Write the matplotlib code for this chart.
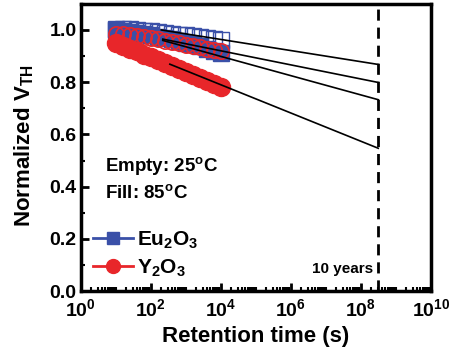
import numpy as np
import matplotlib
matplotlib.use("Agg")
import matplotlib.pyplot as plt
from matplotlib.ticker import LogLocator, NullFormatter, MultipleLocator, FixedLocator

plt.rcParams['font.family'] = ['Liberation Sans', 'DejaVu Sans']
plt.rcParams['font.weight'] = 'bold'
plt.rcParams['mathtext.default'] = 'regular'

# measurement times (s)
t = [10, 16, 25, 40, 63, 100, 158, 251, 398, 631, 1000, 1585, 2512, 3981, 6310, 10000]

eu_filled = [1.000, 0.998, 0.994, 0.990, 0.985, 0.980, 0.975, 0.970, 0.964, 0.958, 0.952, 0.945, 0.937, 0.928, 0.919, 0.910]
eu_open = [1.005, 1.004, 1.002, 1.000, 0.998, 0.995, 0.992, 0.989, 0.986, 0.982, 0.979, 0.976, 0.972, 0.968, 0.964, 0.960]
y_filled = [0.950, 0.940, 0.929, 0.918, 0.906, 0.895, 0.884, 0.873, 0.862, 0.851, 0.840, 0.829, 0.818, 0.806, 0.795, 0.783]
y_open = [0.985, 0.983, 0.980, 0.977, 0.973, 0.969, 0.964, 0.959, 0.954, 0.949, 0.944, 0.939, 0.934, 0.929, 0.924, 0.920]

# extrapolation fit lines: start time, start value, end value at 10 years
fit_t0 = [200, 220, 220, 350]
fit_v0 = [1.000, 0.965, 0.960, 0.869]
fit_v1 = [0.868, 0.799, 0.733, 0.547]
ten_years = 3.15e8

xticks = [1e0, 1e2, 1e4, 1e6, 1e8, 1e10]
yticks = [0.0, 0.2, 0.4, 0.6, 0.8, 1.0]

blue = '#3A50A8'
red = '#E8262A'

fig = plt.figure(figsize=(4.54, 3.52), dpi=100)
ax = fig.add_axes([0.178, 0.173, 0.771, 0.816])

ms = 11
ax.plot(t, eu_open, 's', ms=ms, mfc='none', mec=blue, mew=1.0, zorder=3)
ax.plot(t, eu_filled, 's', ms=ms, color=blue, zorder=3)
ax.plot(t, y_filled, 'o', ms=ms + 2, color=red, zorder=3)
ax.plot(t, y_open, 'o', ms=ms, mfc='none', mec=red, mew=1.2, zorder=4)

for a, b, c in zip(fit_t0, fit_v0, fit_v1):
    ax.plot([a, ten_years], [b, c], '-', color='black', lw=1.2, zorder=5)

ax.axvline(ten_years, color='black', lw=2, ls=(0, (4, 2.5)), zorder=2)

ax.set_xscale('log')
ax.set_xlim(1, 1e10)
ax.set_ylim(0, 1.1)
ax.set_xticks(xticks)
ax.xaxis.set_minor_locator(LogLocator(base=10, subs=np.arange(1, 10), numticks=20))
ax.xaxis.set_minor_formatter(NullFormatter())
ax.set_yticks(yticks)
ax.yaxis.set_minor_locator(MultipleLocator(0.1))
ax.yaxis.set_major_formatter(matplotlib.ticker.FormatStrFormatter('%.1f'))

ax.tick_params(which='major', direction='in', length=6, width=2, labelsize=14, pad=3)
ax.tick_params(axis='x', which='major', pad=5)
ax.tick_params(which='minor', direction='in', length=3, width=1.5)
ax.tick_params(top=False, right=False)
for s in ax.spines.values():
    s.set_linewidth(2.5)

ax.set_xlabel('Retention time (s)', fontsize=16, fontweight='bold', labelpad=4)
ax.set_ylabel(r'Normalized V$_{TH}$', fontsize=16, fontweight='bold')
ax.yaxis.set_label_coords(-0.128, 0.505)

ax.text(4.8, 0.48, r'Empty: 25$^{o}$C', fontsize=13.5, fontweight='bold', va='center')
ax.text(4.8, 0.375, r'Fill: 85$^{o}$C', fontsize=13.5, fontweight='bold', va='center')
ax.text(2.3e8, 0.085, '10 years', fontsize=11, fontweight='bold', ha='right', va='center')

h1, = ax.plot([], [], '-s', color=blue, ms=8, lw=2)
h2, = ax.plot([], [], '-o', color=red, ms=10, lw=2)
leg = ax.legend([h1, h2], [r'Eu$_2$O$_3$', r'Y$_2$O$_3$'], loc='lower left',
                bbox_to_anchor=(0.0, 0.0), frameon=False, fontsize=15,
                handlelength=1.9, handletextpad=0.2, labelspacing=0.3, borderaxespad=0.2)

fig.savefig('out.png', dpi=100)
